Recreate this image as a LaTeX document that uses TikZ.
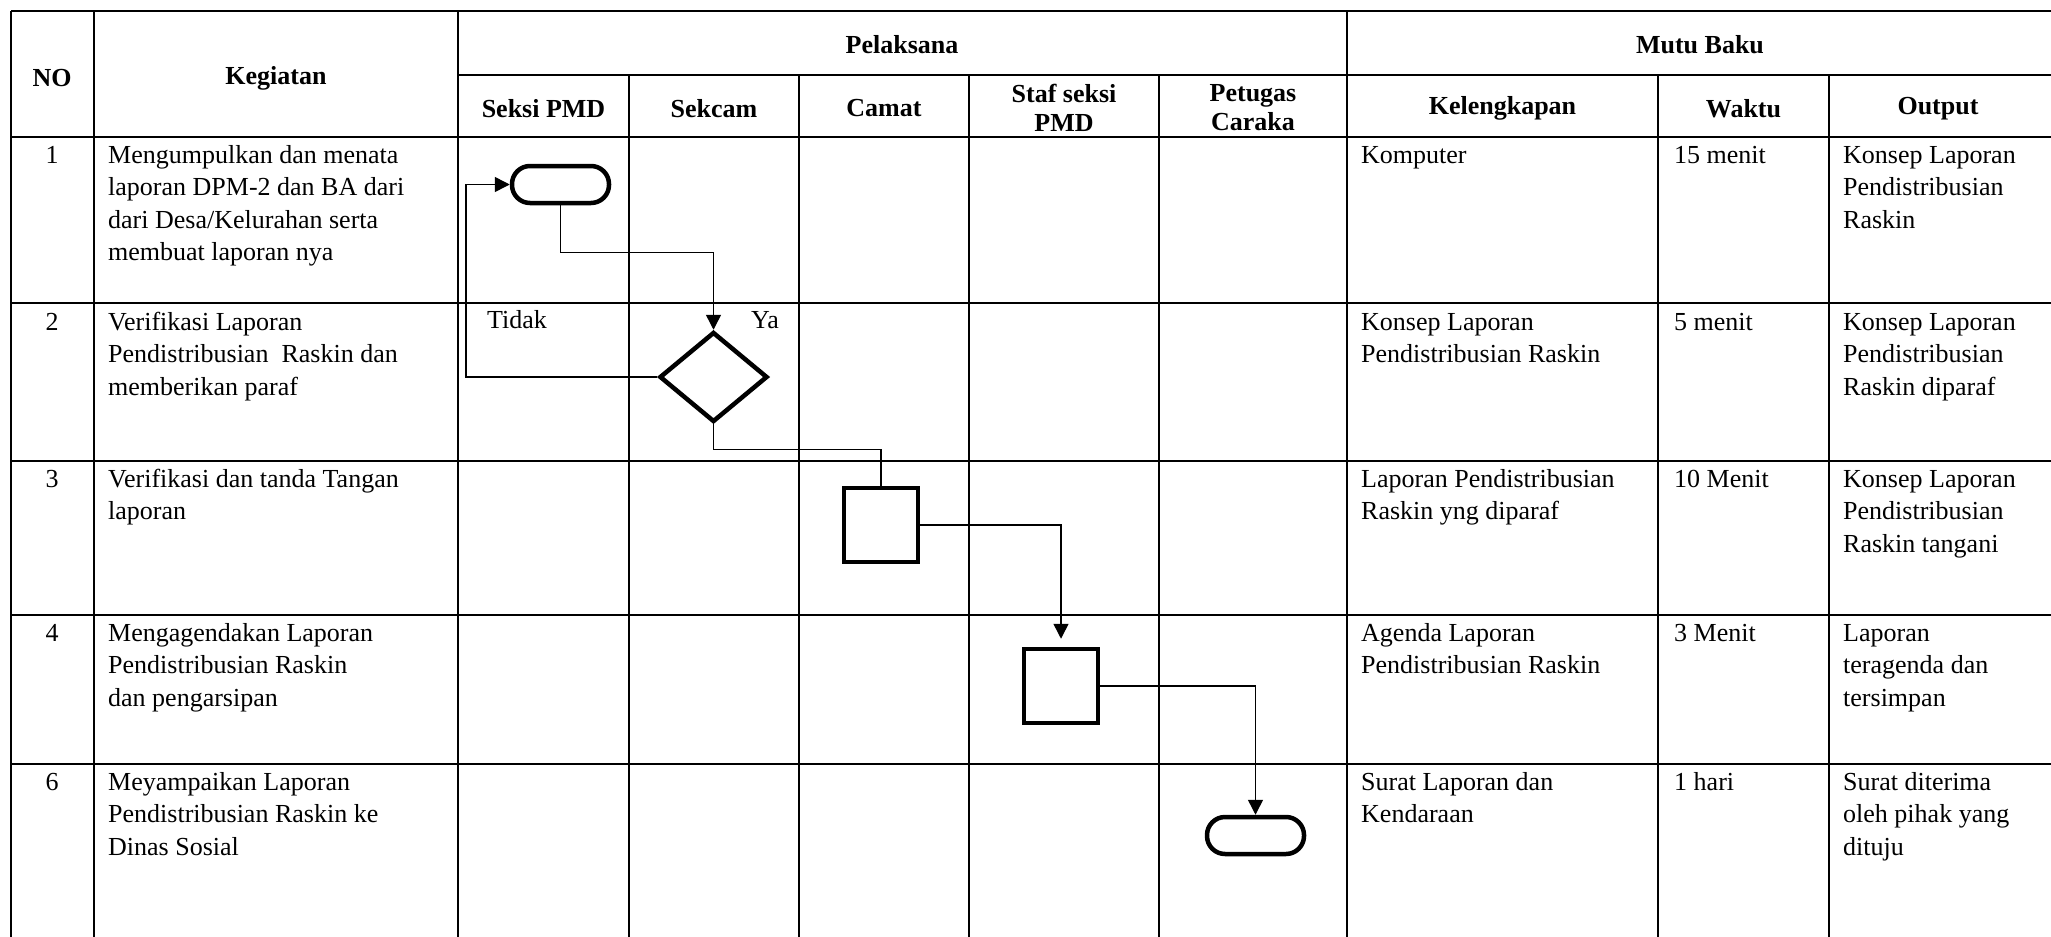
\documentclass[tikz,border=0pt]{standalone}
\usepackage{fontspec}
\setmainfont{Liberation Serif}
\usetikzlibrary{arrows.meta,shapes.geometric,calc}

\newcommand\celltxt[1]{\begin{tabular}[t]{@{}l@{}}#1\end{tabular}}

\begin{document}
\begin{tikzpicture}[x=1pt,y=-1pt,
  grid/.style={line width=2.4pt},
  body/.style={anchor=base west,inner sep=0pt,font=\fontsize{26}{32.5}\selectfont},
  num/.style={anchor=base,inner sep=0pt,font=\fontsize{26}{32.5}\selectfont},
  head/.style={anchor=center,inner sep=0pt,align=center,font=\fontsize{26}{29}\selectfont\bfseries},
  term/.style={draw,line width=4.5pt,rounded corners=18pt,minimum width=97pt,minimum height=37pt,inner sep=0pt},
  proc/.style={draw,line width=4.5pt,minimum width=74pt,minimum height=74pt,inner sep=0pt},
  dec/.style={draw,diamond,line width=4.5pt,minimum width=108pt,minimum height=90pt,inner sep=0pt},
  conn/.style={line width=1.5pt},
  arr/.style={conn,-{Triangle[length=15pt,width=15pt]}}
]
\useasboundingbox (0,0) rectangle (2051,937);
\fill[white] (0,0) rectangle (2051,937);

% grid
\draw[grid] (11,11) -- (2051,11);
\draw[grid] (458,75) -- (2051,75);
\foreach \y in {137,303,461,615,764} \draw[grid] (11,\y) -- (2051,\y);
\foreach \x in {11,94,458,1347} \draw[grid] (\x,11) -- (\x,937);
\foreach \x in {629,799,969,1159,1658,1829} \draw[grid] (\x,75) -- (\x,937);

% headers
\node[head] (hno) at (52,78.5) {NO};
\node[head] (hkeg) at (276,78.5) {Kegiatan};
\node[head] (hpel) at (902,45) {Pelaksana};
\node[head] (hmutu) at (1700,45) {Mutu Baku};
\node[head] (hseksi) at (543.5,108.5) {Seksi PMD};
\node[head] (hsekcam) at (714,108.5) {Sekcam};
\node[head] (hcamat) at (884,108.5) {Camat};
\node[head] (hstaf) at (1064,107.5) {Staf seksi\\PMD};
\node[head] (hpet) at (1253,107.5) {Petugas\\Caraka};
\node[head] (hkel) at (1502.5,108.5) {Kelengkapan};
\node[head] (hwaktu) at (1743.5,108.5) {Waktu};
\node[head] (hout) at (1938,108.5) {Output};

% row 1
\node[num] (n1) at (52,163) {1};
\node[body] (k1) at (108,163) {\celltxt{Mengumpulkan dan menata\\laporan DPM-2 dan BA dari\\dari Desa/Kelurahan serta\\membuat laporan nya}};
\node[body] (l1) at (1361,163) {\celltxt{Komputer}};
\node[body] (w1) at (1674,163) {\celltxt{15 menit}};
\node[body] (o1) at (1843,163) {\celltxt{Konsep Laporan\\Pendistribusian\\Raskin}};

% row 2
\node[num] (n2) at (52,330) {2};
\node[body] (k2) at (108,330) {\celltxt{Verifikasi Laporan\\Pendistribusian\ \ Raskin dan\\memberikan paraf}};
\node[body] (l2) at (1361,330) {\celltxt{Konsep Laporan\\Pendistribusian Raskin}};
\node[body] (w2) at (1674,330) {\celltxt{5 menit}};
\node[body] (o2) at (1843,330) {\celltxt{Konsep Laporan\\Pendistribusian\\Raskin diparaf}};

% row 3
\node[num] (n3) at (52,487) {3};
\node[body] (k3) at (108,487) {\celltxt{Verifikasi dan tanda Tangan\\laporan}};
\node[body] (l3) at (1361,487) {\celltxt{Laporan Pendistribusian\\Raskin yng diparaf}};
\node[body] (w3) at (1674,487) {\celltxt{10 Menit}};
\node[body] (o3) at (1843,487) {\celltxt{Konsep Laporan\\Pendistribusian\\Raskin tangani}};

% row 4
\node[num] (n4) at (52,641) {4};
\node[body] (k4) at (108,641) {\celltxt{Mengagendakan Laporan\\Pendistribusian Raskin\\dan pengarsipan}};
\node[body] (l4) at (1361,641) {\celltxt{Agenda Laporan\\Pendistribusian Raskin}};
\node[body] (w4) at (1674,641) {\celltxt{3 Menit}};
\node[body] (o4) at (1843,641) {\celltxt{Laporan\\teragenda dan\\tersimpan}};

% row 6
\node[num] (n6) at (52,790) {6};
\node[body] (k6) at (108,790) {\celltxt{Meyampaikan Laporan\\Pendistribusian Raskin ke\\Dinas Sosial}};
\node[body] (l6) at (1361,790) {\celltxt{Surat Laporan dan\\Kendaraan}};
\node[body] (w6) at (1674,790) {\celltxt{1 hari}};
\node[body] (o6) at (1843,790) {\celltxt{Surat diterima\\oleh pihak yang\\dituju}};

% flow shapes
\node[term] (t1) at (560.5,184.5) {};
\node[dec] (d1) at (713.5,377) {};
\node[proc] (s1) at (881,525) {};
\node[proc] (s2) at (1061,686) {};
\node[term] (t2) at (1255.5,835.5) {};

% labels
\node[num] (tidak) at (517,328) {Tidak};
\node[num] (ya) at (765,328) {Ya};

% connectors
\coordinate (loopx) at (466,377);
\draw[arr] (t1.south) -- ++(0,47) -| (d1.north);
\draw[arr] (d1.west) -- (loopx) |- (t1.west);
\draw[conn] (d1.south) -- ++(0,25) -| (s1.north);
\draw[arr,shorten >=8pt] (s1.east) -| (s2.north);
\draw[arr] (s2.east) -| (t2.north);
\end{tikzpicture}
\end{document}
